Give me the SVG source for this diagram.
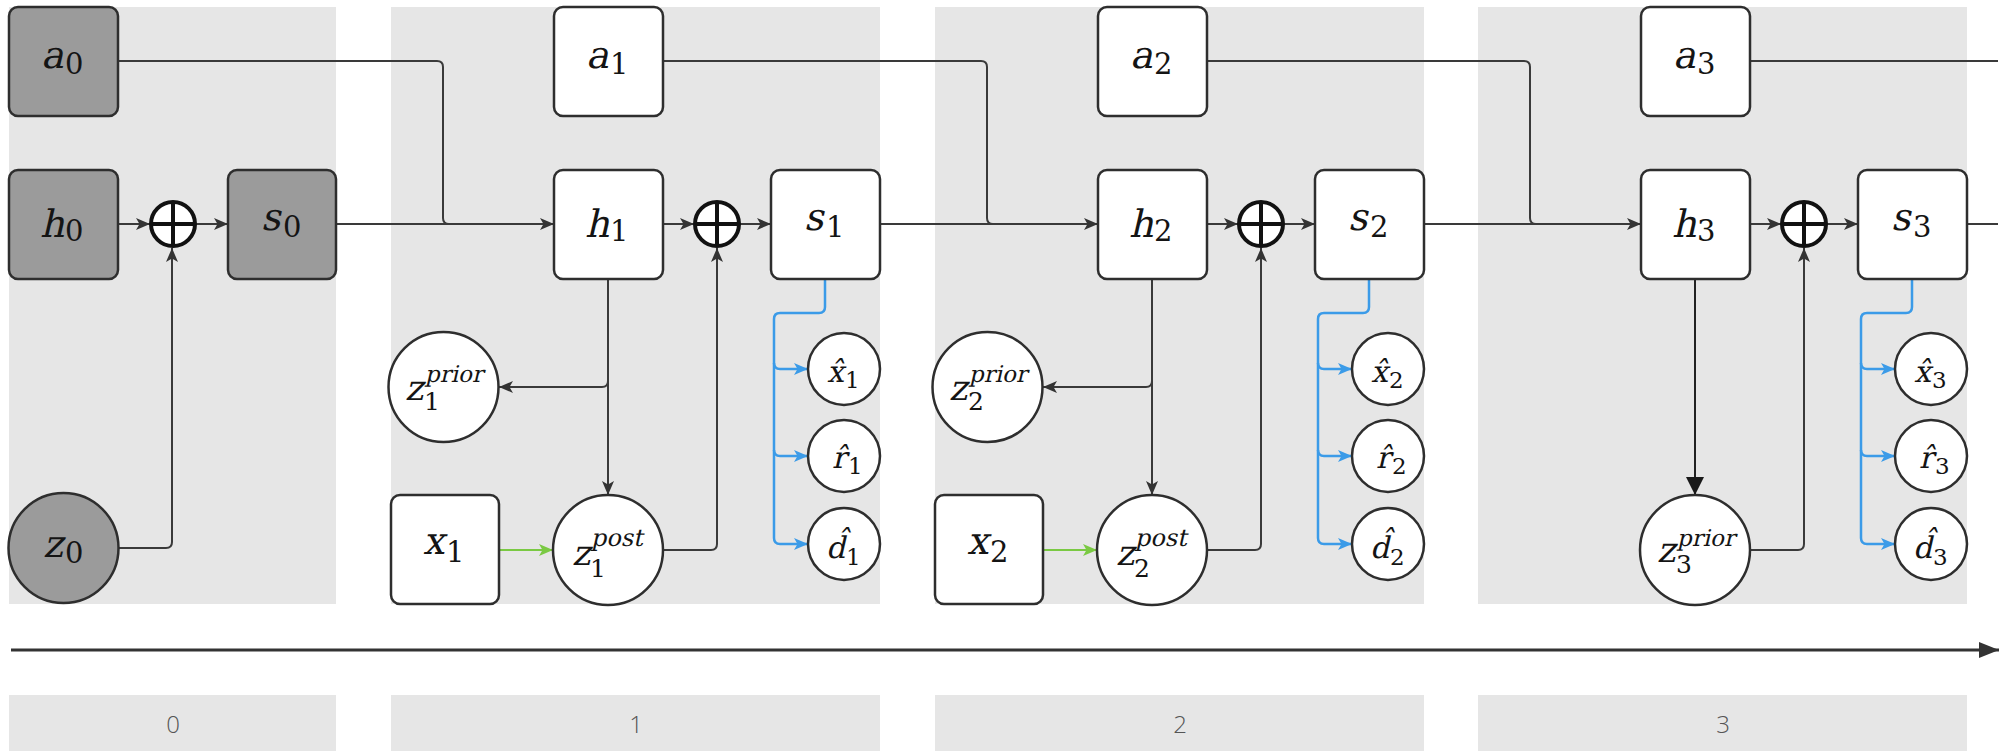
<svg xmlns="http://www.w3.org/2000/svg" width="2006" height="751" viewBox="0 0 2006 751">
<style>
.bg{fill:#e6e6e6}
.nd{fill:#ffffff;stroke:#2e2e2e;stroke-width:2.5}
.gy{fill:#9b9b9b;stroke:#2e2e2e;stroke-width:2.5}
.op{fill:#ffffff;stroke:#111;stroke-width:4}
.opl{stroke:#111;stroke-width:4}
.c{fill:none;stroke:#3a3a3a;stroke-width:2}
.cb{fill:none;stroke:#3b9be8;stroke-width:2.5}
.cg{fill:none;stroke:#7ac943;stroke-width:2}
text{font-family:"DejaVu Serif",serif;fill:#141414}
.m{font-size:38px}
.d{font-size:29px}
.zm{font-size:35px}
.sp{font-size:23px}
.po{font-size:24px}
.zd{font-size:25px}
.sm{font-size:30px}
.sd{font-size:23px}
.lb{font-family:"Open Sans",sans-serif;font-weight:300;font-size:24px;fill:#555;text-anchor:middle}
</style>
<defs>
<marker id="ar" viewBox="0 0 14 12" refX="14" refY="6" markerWidth="14" markerHeight="12" markerUnits="userSpaceOnUse" orient="auto"><path d="M0,0 L14,6 L0,12 L3.5,6 z" fill="#333"/></marker>
<marker id="ab" viewBox="0 0 14 12" refX="14" refY="6" markerWidth="14" markerHeight="12" markerUnits="userSpaceOnUse" orient="auto"><path d="M0,0 L14,6 L0,12 L3.5,6 z" fill="#3b9be8"/></marker>
<marker id="ag" viewBox="0 0 14 12" refX="14" refY="6" markerWidth="14" markerHeight="12" markerUnits="userSpaceOnUse" orient="auto"><path d="M0,0 L14,6 L0,12 L3.5,6 z" fill="#7ac943"/></marker>
<marker id="abig" viewBox="0 0 18 18" refX="18" refY="9" markerWidth="18" markerHeight="18" markerUnits="userSpaceOnUse" orient="auto"><path d="M0,0 L18,9 L0,18 z" fill="#1a1a1a"/></marker>
<marker id="at" viewBox="0 0 20 16" refX="20" refY="8" markerWidth="20" markerHeight="16" markerUnits="userSpaceOnUse" orient="auto"><path d="M0,0 L20,8 L0,16 z" fill="#333"/></marker>
</defs>

<g id="panels">
<rect class="bg" x="9" y="7" width="327" height="597"/>
<rect class="bg" x="391" y="7" width="489" height="597"/>
<rect class="bg" x="935" y="7" width="489" height="597"/>
<rect class="bg" x="1478" y="7" width="489" height="597"/>
</g>

<g id="step-labels">
<rect class="bg" x="9" y="695" width="327" height="56"/>
<rect class="bg" x="391" y="695" width="489" height="56"/>
<rect class="bg" x="935" y="695" width="489" height="56"/>
<rect class="bg" x="1478" y="695" width="489" height="56"/>
<text class="lb" x="173" y="733">0</text>
<text class="lb" x="636" y="733">1</text>
<text class="lb" x="1180" y="733">2</text>
<text class="lb" x="1723" y="733">3</text>
</g>

<g id="connectors">
<path d="M11,650 H1999" fill="none" stroke="#333" stroke-width="3" marker-end="url(#at)"/>
<path class="c" d="M118,224 H150" marker-end="url(#ar)"/>
<path class="c" d="M195,224 H228" marker-end="url(#ar)"/>
<path class="c" d="M119,548 H166 Q172,548 172,542 V248" marker-end="url(#ar)"/>
<path class="c" d="M118,61 H437 Q443,61 443,67 V218 Q443,224 449,224"/>
<path class="c" d="M336,224 H554" marker-end="url(#ar)"/>
<path class="c" d="M663,224 H694" marker-end="url(#ar)"/>
<path class="c" d="M739,224 H771" marker-end="url(#ar)"/>
<path class="c" d="M608,279 V495" marker-end="url(#ar)"/>
<path class="c" d="M608,381 Q608,387 602,387 H499" marker-end="url(#ar)"/>
<path class="cg" d="M500,550 H553" marker-end="url(#ag)"/>
<path class="c" d="M663,550 H711 Q717,550 717,544 V248" marker-end="url(#ar)"/>
<path class="c" d="M663,61 H981 Q987,61 987,67 V218 Q987,224 993,224"/>
<path class="c" d="M880,224 H1098" marker-end="url(#ar)"/>
<path class="cb" d="M825,279 V307 Q825,313 819,313 H780 Q774,313 774,319 V538 Q774,544 780,544 H808" marker-end="url(#ab)"/>
<path class="cb" d="M774,363 Q774,369 780,369 H808" marker-end="url(#ab)"/>
<path class="cb" d="M774,450 Q774,456 780,456 H808" marker-end="url(#ab)"/>
<path class="c" d="M1207,224 H1238" marker-end="url(#ar)"/>
<path class="c" d="M1283,224 H1315" marker-end="url(#ar)"/>
<path class="c" d="M1152,279 V495" marker-end="url(#ar)"/>
<path class="c" d="M1152,381 Q1152,387 1146,387 H1043" marker-end="url(#ar)"/>
<path class="cg" d="M1044,550 H1097" marker-end="url(#ag)"/>
<path class="c" d="M1207,550 H1255 Q1261,550 1261,544 V248" marker-end="url(#ar)"/>
<path class="c" d="M1207,61 H1524 Q1530,61 1530,67 V218 Q1530,224 1536,224"/>
<path class="c" d="M1424,224 H1641" marker-end="url(#ar)"/>
<path class="cb" d="M1369,279 V307 Q1369,313 1363,313 H1324 Q1318,313 1318,319 V538 Q1318,544 1324,544 H1352" marker-end="url(#ab)"/>
<path class="cb" d="M1318,363 Q1318,369 1324,369 H1352" marker-end="url(#ab)"/>
<path class="cb" d="M1318,450 Q1318,456 1324,456 H1352" marker-end="url(#ab)"/>
<path class="c" d="M1750,224 H1781" marker-end="url(#ar)"/>
<path class="c" d="M1826,224 H1858" marker-end="url(#ar)"/>
<path d="M1695,279 V495" fill="none" stroke="#222" stroke-width="2" marker-end="url(#abig)"/>
<path class="c" d="M1750,550 H1798 Q1804,550 1804,544 V248" marker-end="url(#ar)"/>
<path class="c" d="M1750,61 H1998"/>
<path class="c" d="M1967,224 H1998"/>
<path class="cb" d="M1912,279 V307 Q1912,313 1906,313 H1867 Q1861,313 1861,319 V538 Q1861,544 1867,544 H1895" marker-end="url(#ab)"/>
<path class="cb" d="M1861,363 Q1861,369 1867,369 H1895" marker-end="url(#ab)"/>
<path class="cb" d="M1861,450 Q1861,456 1867,456 H1895" marker-end="url(#ab)"/>
</g>

<!-- step 0 -->
<g id="a0"><rect class="gy" x="9" y="7" width="109" height="109" rx="9"/><text class="m" transform="translate(41,68) skewX(-13)">a</text><text class="d" x="65" y="74">0</text></g>
<g id="h0"><rect class="gy" x="9" y="170" width="109" height="109" rx="9"/><text class="m" transform="translate(40,237) skewX(-13)">h</text><text class="d" x="65" y="241">0</text></g>
<g id="oplus0"><circle class="op" cx="173" cy="224" r="22"/><path class="opl" d="M151,224 H195 M173,202 V246"/></g>
<g id="s0"><rect class="gy" x="228" y="170" width="108" height="109" rx="9"/><text class="m" transform="translate(261,230) skewX(-13)">s</text><text class="d" x="283" y="237">0</text></g>
<g id="z0"><circle class="gy" cx="63.5" cy="548" r="55"/><text class="m" transform="translate(43,557) skewX(-13)">z</text><text class="d" x="65" y="563">0</text></g>

<!-- step 1 -->
<g id="a1"><rect class="nd" x="554" y="7" width="109" height="109" rx="9"/><text class="m" transform="translate(586,68) skewX(-13)">a</text><text class="d" x="610" y="74">1</text></g>
<g id="h1"><rect class="nd" x="554" y="170" width="109" height="109" rx="9"/><text class="m" transform="translate(585,237) skewX(-13)">h</text><text class="d" x="610" y="241">1</text></g>
<g id="oplus1"><circle class="op" cx="717" cy="224" r="22"/><path class="opl" d="M695,224 H739 M717,202 V246"/></g>
<g id="s1"><rect class="nd" x="771" y="170" width="109" height="109" rx="9"/><text class="m" transform="translate(804,230) skewX(-13)">s</text><text class="d" x="826" y="237">1</text></g>
<g id="z1prior"><circle class="nd" cx="443.5" cy="387" r="55"/><text class="zm" transform="translate(405,400) skewX(-13)">z</text><text class="sp" transform="translate(425,382) skewX(-13)">prior</text><text class="zd" x="424" y="410">1</text></g>
<g id="x1"><rect class="nd" x="391" y="495" width="108" height="109" rx="9"/><text class="m" transform="translate(423,554) skewX(-13)">x</text><text class="d" x="446" y="562">1</text></g>
<g id="z1post"><circle class="nd" cx="608" cy="550" r="55"/><text class="zm" transform="translate(572,565) skewX(-13)">z</text><text class="po" transform="translate(591,546) skewX(-13)">post</text><text class="zd" x="590" y="577">1</text></g>
<g id="xhat1"><circle class="nd" cx="844" cy="369" r="36"/><text class="sm" transform="translate(827,382) skewX(-13)">x&#x302;</text><text class="sd" x="845" y="388">1</text></g>
<g id="rhat1"><circle class="nd" cx="844" cy="456" r="36"/><text class="sm" transform="translate(832,468) skewX(-13)">r&#x302;</text><text class="sd" x="848" y="474">1</text></g>
<g id="dhat1"><circle class="nd" cx="844" cy="544" r="36"/><text class="sm" transform="translate(826,558) skewX(-13)">d&#x302;</text><text class="sd" x="846" y="565">1</text></g>

<!-- step 2 -->
<g id="a2"><rect class="nd" x="1098" y="7" width="109" height="109" rx="9"/><text class="m" transform="translate(1130,68) skewX(-13)">a</text><text class="d" x="1154" y="74">2</text></g>
<g id="h2"><rect class="nd" x="1098" y="170" width="109" height="109" rx="9"/><text class="m" transform="translate(1129,237) skewX(-13)">h</text><text class="d" x="1154" y="241">2</text></g>
<g id="oplus2"><circle class="op" cx="1261" cy="224" r="22"/><path class="opl" d="M1239,224 H1283 M1261,202 V246"/></g>
<g id="s2"><rect class="nd" x="1315" y="170" width="109" height="109" rx="9"/><text class="m" transform="translate(1348,230) skewX(-13)">s</text><text class="d" x="1370" y="237">2</text></g>
<g id="z2prior"><circle class="nd" cx="987.5" cy="387" r="55"/><text class="zm" transform="translate(949,400) skewX(-13)">z</text><text class="sp" transform="translate(969,382) skewX(-13)">prior</text><text class="zd" x="968" y="410">2</text></g>
<g id="x2"><rect class="nd" x="935" y="495" width="108" height="109" rx="9"/><text class="m" transform="translate(967,554) skewX(-13)">x</text><text class="d" x="990" y="562">2</text></g>
<g id="z2post"><circle class="nd" cx="1152" cy="550" r="55"/><text class="zm" transform="translate(1116,565) skewX(-13)">z</text><text class="po" transform="translate(1135,546) skewX(-13)">post</text><text class="zd" x="1134" y="577">2</text></g>
<g id="xhat2"><circle class="nd" cx="1388" cy="369" r="36"/><text class="sm" transform="translate(1371,382) skewX(-13)">x&#x302;</text><text class="sd" x="1389" y="388">2</text></g>
<g id="rhat2"><circle class="nd" cx="1388" cy="456" r="36"/><text class="sm" transform="translate(1376,468) skewX(-13)">r&#x302;</text><text class="sd" x="1392" y="474">2</text></g>
<g id="dhat2"><circle class="nd" cx="1388" cy="544" r="36"/><text class="sm" transform="translate(1370,558) skewX(-13)">d&#x302;</text><text class="sd" x="1390" y="565">2</text></g>

<!-- step 3 -->
<g id="a3"><rect class="nd" x="1641" y="7" width="109" height="109" rx="9"/><text class="m" transform="translate(1673,68) skewX(-13)">a</text><text class="d" x="1697" y="74">3</text></g>
<g id="h3"><rect class="nd" x="1641" y="170" width="109" height="109" rx="9"/><text class="m" transform="translate(1672,237) skewX(-13)">h</text><text class="d" x="1697" y="241">3</text></g>
<g id="oplus3"><circle class="op" cx="1804" cy="224" r="22"/><path class="opl" d="M1782,224 H1826 M1804,202 V246"/></g>
<g id="s3"><rect class="nd" x="1858" y="170" width="109" height="109" rx="9"/><text class="m" transform="translate(1891,230) skewX(-13)">s</text><text class="d" x="1913" y="237">3</text></g>
<g id="z3prior"><circle class="nd" cx="1695" cy="550" r="55"/><text class="zm" transform="translate(1657,562) skewX(-13)">z</text><text class="sp" transform="translate(1677,546) skewX(-13)">prior</text><text class="zd" x="1676" y="573">3</text></g>
<g id="xhat3"><circle class="nd" cx="1931" cy="369" r="36"/><text class="sm" transform="translate(1914,382) skewX(-13)">x&#x302;</text><text class="sd" x="1932" y="388">3</text></g>
<g id="rhat3"><circle class="nd" cx="1931" cy="456" r="36"/><text class="sm" transform="translate(1919,468) skewX(-13)">r&#x302;</text><text class="sd" x="1935" y="474">3</text></g>
<g id="dhat3"><circle class="nd" cx="1931" cy="544" r="36"/><text class="sm" transform="translate(1913,558) skewX(-13)">d&#x302;</text><text class="sd" x="1933" y="565">3</text></g>
</svg>
